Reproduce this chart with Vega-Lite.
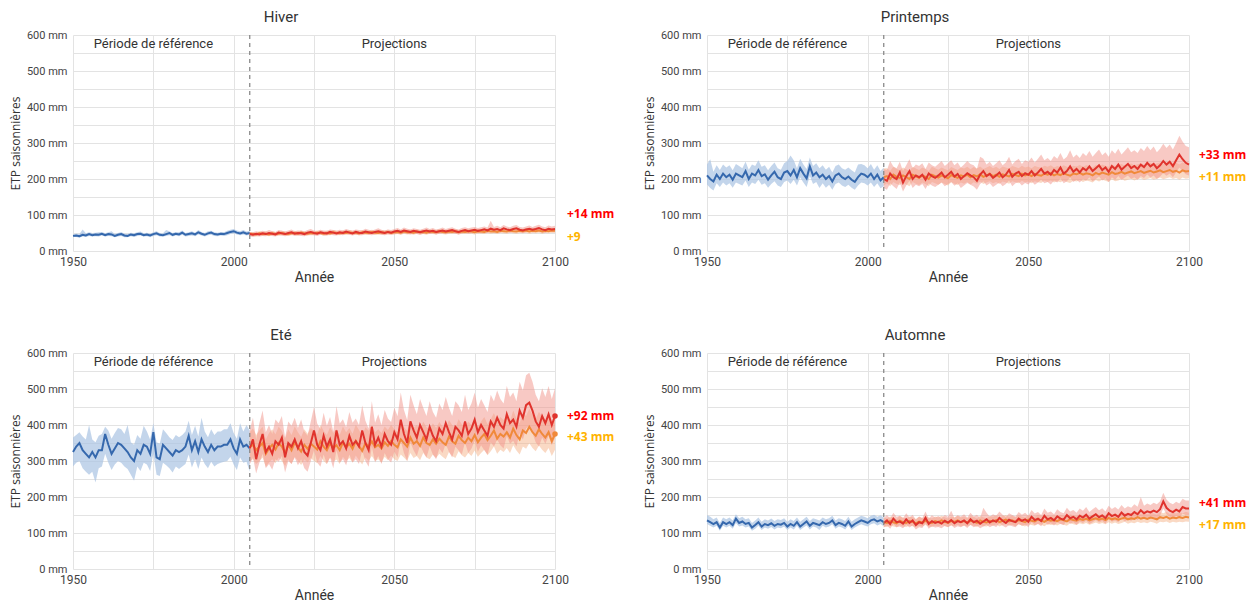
{
  "$schema": "https://vega.github.io/schema/vega-lite/v6.json",
  "background": "white",
  "padding": {"left": 9, "top": 10, "right": 5, "bottom": 5},
  "data": {
    "values": "saison,annee,ref,ref_min,ref_max,rcp85,rcp85_min,rcp85_max,rcp45,rcp45_min,rcp45_max\nH,1950,42,39,46,,,,,,\nH,1951,43,39,48,,,,,,\nH,1952,41,37,47,,,,,,\nH,1953,45,40,60,,,,,,\nH,1954,43,39,49,,,,,,\nH,1955,47,42,52,,,,,,\nH,1956,44,40,50,,,,,,\nH,1957,46,41,51,,,,,,\nH,1958,45,40,52,,,,,,\nH,1959,48,43,53,,,,,,\nH,1960,44,40,49,,,,,,\nH,1961,47,42,52,,,,,,\nH,1962,46,41,55,,,,,,\nH,1963,42,38,47,,,,,,\nH,1964,45,40,50,,,,,,\nH,1965,47,42,53,,,,,,\nH,1966,43,38,48,,,,,,\nH,1967,42,38,47,,,,,,\nH,1968,46,41,51,,,,,,\nH,1969,44,39,49,,,,,,\nH,1970,47,42,52,,,,,,\nH,1971,48,43,54,,,,,,\nH,1972,44,40,49,,,,,,\nH,1973,46,41,51,,,,,,\nH,1974,43,38,48,,,,,,\nH,1975,47,42,52,,,,,,\nH,1976,49,44,55,,,,,,\nH,1977,45,40,50,,,,,,\nH,1978,44,40,49,,,,,,\nH,1979,47,42,58,,,,,,\nH,1980,50,44,55,,,,,,\nH,1981,45,40,50,,,,,,\nH,1982,48,43,53,,,,,,\nH,1983,46,41,52,,,,,,\nH,1984,51,45,57,,,,,,\nH,1985,45,40,50,,,,,,\nH,1986,47,42,52,,,,,,\nH,1987,49,43,55,,,,,,\nH,1988,46,41,51,,,,,,\nH,1989,52,46,58,,,,,,\nH,1990,48,43,53,,,,,,\nH,1991,45,40,50,,,,,,\nH,1992,49,44,55,,,,,,\nH,1993,51,45,56,,,,,,\nH,1994,47,42,52,,,,,,\nH,1995,46,41,51,,,,,,\nH,1996,48,43,53,,,,,,\nH,1997,47,42,52,,,,,,\nH,1998,50,44,56,,,,,,\nH,1999,53,47,59,,,,,,\nH,2000,55,49,61,,,,,,\nH,2001,51,46,57,,,,,,\nH,2002,49,44,55,,,,,,\nH,2003,52,46,58,,,,,,\nH,2004,48,43,54,,,,,,\nH,2005,50,45,56,47,41,53,48,43,53\nH,2006,,,,45,39,52,47,42,52\nH,2007,,,,48,41,55,46,41,51\nH,2008,,,,46,40,53,49,44,55\nH,2009,,,,49,42,56,47,42,53\nH,2010,,,,47,41,54,48,43,54\nH,2011,,,,50,43,58,46,41,52\nH,2012,,,,48,42,55,49,44,55\nH,2013,,,,46,40,53,47,42,53\nH,2014,,,,51,44,58,48,43,54\nH,2015,,,,49,43,56,50,44,56\nH,2016,,,,47,41,54,48,43,54\nH,2017,,,,50,43,57,47,42,53\nH,2018,,,,52,45,60,49,44,55\nH,2019,,,,48,42,55,50,45,56\nH,2020,,,,50,43,57,48,43,54\nH,2021,,,,49,42,56,51,45,57\nH,2022,,,,47,41,54,49,44,55\nH,2023,,,,51,44,58,48,43,54\nH,2024,,,,53,46,61,50,44,56\nH,2025,,,,50,44,57,49,44,55\nH,2026,,,,48,42,55,51,45,57\nH,2027,,,,52,45,59,50,45,56\nH,2028,,,,50,43,57,48,43,54\nH,2029,,,,49,43,56,50,44,56\nH,2030,,,,53,46,60,49,44,55\nH,2031,,,,51,44,58,52,46,58\nH,2032,,,,49,43,56,50,45,56\nH,2033,,,,52,45,59,49,44,55\nH,2034,,,,50,44,57,51,45,57\nH,2035,,,,54,47,61,50,45,56\nH,2036,,,,51,45,58,52,46,58\nH,2037,,,,49,43,56,50,45,56\nH,2038,,,,53,46,60,51,45,57\nH,2039,,,,51,44,58,49,44,55\nH,2040,,,,50,44,57,52,46,58\nH,2041,,,,54,47,62,51,45,57\nH,2042,,,,52,45,59,50,45,56\nH,2043,,,,50,44,57,53,47,59\nH,2044,,,,53,46,60,51,45,57\nH,2045,,,,55,48,63,50,45,56\nH,2046,,,,52,45,59,52,46,58\nH,2047,,,,50,44,57,51,45,57\nH,2048,,,,53,46,60,53,47,59\nH,2049,,,,51,45,58,50,45,56\nH,2050,,,,54,47,61,52,46,58\nH,2051,,,,56,49,64,53,47,59\nH,2052,,,,53,46,60,51,45,57\nH,2053,,,,57,50,65,54,48,60\nH,2054,,,,55,48,62,52,46,58\nH,2055,,,,53,46,60,53,47,59\nH,2056,,,,56,49,63,51,45,57\nH,2057,,,,54,47,61,54,48,60\nH,2058,,,,52,45,59,52,46,58\nH,2059,,,,55,48,62,53,47,59\nH,2060,,,,57,50,65,51,45,57\nH,2061,,,,54,47,61,54,48,60\nH,2062,,,,56,49,64,53,47,59\nH,2063,,,,53,46,60,52,46,58\nH,2064,,,,55,48,62,55,49,61\nH,2065,,,,57,50,65,53,47,59\nH,2066,,,,54,47,61,52,46,58\nH,2067,,,,56,49,64,54,48,60\nH,2068,,,,58,51,66,53,47,59\nH,2069,,,,55,48,62,55,49,61\nH,2070,,,,53,46,60,52,46,58\nH,2071,,,,56,49,64,54,48,60\nH,2072,,,,58,51,66,53,47,59\nH,2073,,,,55,48,63,55,49,61\nH,2074,,,,57,50,65,54,48,60\nH,2075,,,,59,52,67,52,46,58\nH,2076,,,,56,49,64,55,49,61\nH,2077,,,,58,51,66,54,48,60\nH,2078,,,,60,52,68,53,47,59\nH,2079,,,,57,50,65,56,50,62\nH,2080,,,,62,54,84,54,48,60\nH,2081,,,,59,52,67,55,49,61\nH,2082,,,,61,53,70,53,47,59\nH,2083,,,,58,51,66,56,50,62\nH,2084,,,,63,55,72,55,49,61\nH,2085,,,,60,52,68,54,48,60\nH,2086,,,,58,51,66,57,51,63\nH,2087,,,,61,53,70,55,49,61\nH,2088,,,,63,55,72,54,48,60\nH,2089,,,,59,52,67,56,50,62\nH,2090,,,,57,50,65,55,49,61\nH,2091,,,,60,52,68,57,51,63\nH,2092,,,,62,54,71,54,48,60\nH,2093,,,,59,52,67,56,50,62\nH,2094,,,,61,53,70,55,49,61\nH,2095,,,,64,56,73,57,51,63\nH,2096,,,,60,52,68,54,48,60\nH,2097,,,,58,51,66,56,50,62\nH,2098,,,,62,54,71,55,49,61\nH,2099,,,,60,52,68,57,51,63\nH,2100,,,,61,53,70,56,50,62\nP,1950,210,185,240,,,,,,\nP,1951,200,175,255,,,,,,\nP,1952,193,168,220,,,,,,\nP,1953,212,188,238,,,,,,\nP,1954,200,178,225,,,,,,\nP,1955,215,190,240,,,,,,\nP,1956,205,182,232,,,,,,\nP,1957,212,188,238,,,,,,\nP,1958,198,176,224,,,,,,\nP,1959,215,190,242,,,,,,\nP,1960,210,186,236,,,,,,\nP,1961,205,182,230,,,,,,\nP,1962,222,196,248,,,,,,\nP,1963,200,178,226,,,,,,\nP,1964,215,190,240,,,,,,\nP,1965,210,186,236,,,,,,\nP,1966,225,198,252,,,,,,\nP,1967,208,184,234,,,,,,\nP,1968,213,188,238,,,,,,\nP,1969,198,176,224,,,,,,\nP,1970,210,186,236,,,,,,\nP,1971,220,194,246,,,,,,\nP,1972,205,182,230,,,,,,\nP,1973,200,178,226,,,,,,\nP,1974,218,192,244,,,,,,\nP,1975,222,196,250,,,,,,\nP,1976,210,186,265,,,,,,\nP,1977,225,198,252,,,,,,\nP,1978,205,182,230,,,,,,\nP,1979,230,204,256,,,,,,\nP,1980,215,190,240,,,,,,\nP,1981,202,178,228,,,,,,\nP,1982,235,208,260,,,,,,\nP,1983,210,186,236,,,,,,\nP,1984,218,192,244,,,,,,\nP,1985,205,175,230,,,,,,\nP,1986,212,188,238,,,,,,\nP,1987,200,176,226,,,,,,\nP,1988,208,184,234,,,,,,\nP,1989,193,170,218,,,,,,\nP,1990,210,186,236,,,,,,\nP,1991,215,190,240,,,,,,\nP,1992,205,182,230,,,,,,\nP,1993,200,178,226,,,,,,\nP,1994,207,184,232,,,,,,\nP,1995,198,176,224,,,,,,\nP,1996,192,170,218,,,,,,\nP,1997,205,182,240,,,,,,\nP,1998,215,190,242,,,,,,\nP,1999,212,188,238,,,,,,\nP,2000,205,182,230,,,,,,\nP,2001,215,190,242,,,,,,\nP,2002,200,178,226,,,,,,\nP,2003,212,188,238,,,,,,\nP,2004,196,174,222,,,,,,\nP,2005,205,180,232,200,175,228,205,182,230\nP,2006,,,,195,170,225,208,188,230\nP,2007,,,,215,188,250,200,180,222\nP,2008,,,,205,180,235,212,192,234\nP,2009,,,,200,172,230,206,186,228\nP,2010,,,,218,190,248,203,183,225\nP,2011,,,,190,165,222,210,190,232\nP,2012,,,,208,182,238,205,185,227\nP,2013,,,,222,195,255,200,180,222\nP,2014,,,,200,175,230,212,192,234\nP,2015,,,,210,184,240,207,187,229\nP,2016,,,,205,180,236,203,183,225\nP,2017,,,,212,186,244,210,190,232\nP,2018,,,,198,172,228,206,186,228\nP,2019,,,,215,188,246,200,180,222\nP,2020,,,,208,182,238,212,192,234\nP,2021,,,,203,178,234,208,188,230\nP,2022,,,,210,184,242,204,184,226\nP,2023,,,,218,190,250,210,190,232\nP,2024,,,,205,180,236,206,186,228\nP,2025,,,,212,186,244,202,182,224\nP,2026,,,,220,192,252,211,191,233\nP,2027,,,,207,181,238,207,187,229\nP,2028,,,,214,188,246,203,183,225\nP,2029,,,,200,175,232,210,190,232\nP,2030,,,,208,182,240,207,187,229\nP,2031,,,,216,189,250,212,192,234\nP,2032,,,,210,184,242,205,185,227\nP,2033,,,,205,179,238,211,191,233\nP,2034,,,,195,170,228,207,187,229\nP,2035,,,,212,186,262,213,193,235\nP,2036,,,,222,194,256,206,186,228\nP,2037,,,,208,182,240,210,190,232\nP,2038,,,,214,188,248,214,194,236\nP,2039,,,,203,178,236,208,188,230\nP,2040,,,,210,184,244,212,192,234\nP,2041,,,,218,190,252,206,186,228\nP,2042,,,,205,180,238,213,193,235\nP,2043,,,,212,186,246,210,190,232\nP,2044,,,,225,196,262,207,187,229\nP,2045,,,,206,180,240,214,194,236\nP,2046,,,,215,188,250,211,191,233\nP,2047,,,,220,192,256,208,188,230\nP,2048,,,,208,182,242,215,195,237\nP,2049,,,,216,189,252,210,190,232\nP,2050,,,,212,185,248,213,193,235\nP,2051,,,,222,194,260,208,188,230\nP,2052,,,,210,184,246,214,194,236\nP,2053,,,,218,190,256,211,191,233\nP,2054,,,,228,198,268,209,189,231\nP,2055,,,,215,188,252,215,195,237\nP,2056,,,,220,192,258,212,192,234\nP,2057,,,,212,185,250,216,196,238\nP,2058,,,,225,196,264,210,190,232\nP,2059,,,,218,190,256,214,194,236\nP,2060,,,,232,202,272,211,191,233\nP,2061,,,,215,188,254,216,196,238\nP,2062,,,,222,194,262,212,192,234\nP,2063,,,,235,204,280,209,189,231\nP,2064,,,,220,192,260,215,195,237\nP,2065,,,,228,198,268,213,193,235\nP,2066,,,,218,190,258,217,197,239\nP,2067,,,,230,200,272,212,192,234\nP,2068,,,,224,195,264,216,196,238\nP,2069,,,,235,205,278,214,194,236\nP,2070,,,,222,194,262,210,190,232\nP,2071,,,,230,200,272,217,197,239\nP,2072,,,,238,207,282,213,193,235\nP,2073,,,,225,196,266,218,198,240\nP,2074,,,,232,202,274,215,195,237\nP,2075,,,,220,192,262,212,192,234\nP,2076,,,,236,205,280,219,199,241\nP,2077,,,,228,198,270,214,194,236\nP,2078,,,,240,208,284,216,196,238\nP,2079,,,,226,197,268,220,200,242\nP,2080,,,,234,204,278,215,195,237\nP,2081,,,,242,210,288,218,198,240\nP,2082,,,,230,200,274,221,201,243\nP,2083,,,,236,205,280,216,196,238\nP,2084,,,,228,198,272,219,199,241\nP,2085,,,,240,208,286,222,202,244\nP,2086,,,,233,203,278,217,197,239\nP,2087,,,,245,213,292,220,200,242\nP,2088,,,,235,204,280,223,203,245\nP,2089,,,,242,210,290,218,198,240\nP,2090,,,,230,200,274,221,201,243\nP,2091,,,,238,207,284,224,204,246\nP,2092,,,,250,217,298,219,199,241\nP,2093,,,,240,209,286,222,202,244\nP,2094,,,,248,215,296,225,205,247\nP,2095,,,,236,205,282,220,200,242\nP,2096,,,,252,219,300,223,203,245\nP,2097,,,,268,232,320,218,198,240\nP,2098,,,,255,222,304,224,204,246\nP,2099,,,,245,213,292,221,201,243\nP,2100,,,,240,210,288,222,202,244\nE,1950,325,285,365,,,,,,\nE,1951,340,295,372,,,,,,\nE,1952,350,300,380,,,,,,\nE,1953,330,280,368,,,,,,\nE,1954,320,270,360,,,,,,\nE,1955,310,262,400,,,,,,\nE,1956,325,270,360,,,,,,\nE,1957,310,240,352,,,,,,\nE,1958,330,280,370,,,,,,\nE,1959,330,285,375,,,,,,\nE,1960,375,320,395,,,,,,\nE,1961,345,295,385,,,,,,\nE,1962,320,275,362,,,,,,\nE,1963,335,290,378,,,,,,\nE,1964,350,300,392,,,,,,\nE,1965,345,295,388,,,,,,\nE,1966,335,285,375,,,,,,\nE,1967,325,278,400,,,,,,\nE,1968,310,262,352,,,,,,\nE,1969,300,245,345,,,,,,\nE,1970,330,285,372,,,,,,\nE,1971,320,272,362,,,,,,\nE,1972,345,295,398,,,,,,\nE,1973,340,290,382,,,,,,\nE,1974,320,272,360,,,,,,\nE,1975,380,320,405,,,,,,\nE,1976,310,262,352,,,,,,\nE,1977,305,258,348,,,,,,\nE,1978,345,295,388,,,,,,\nE,1979,335,288,378,,,,,,\nE,1980,325,280,366,,,,,,\nE,1981,315,268,358,,,,,,\nE,1982,330,285,372,,,,,,\nE,1983,325,278,366,,,,,,\nE,1984,330,285,372,,,,,,\nE,1985,340,292,382,,,,,,\nE,1986,370,318,412,,,,,,\nE,1987,330,282,372,,,,,,\nE,1988,355,305,398,,,,,,\nE,1989,325,278,368,,,,,,\nE,1990,360,310,420,,,,,,\nE,1991,340,292,382,,,,,,\nE,1992,325,280,366,,,,,,\nE,1993,345,298,388,,,,,,\nE,1994,330,285,372,,,,,,\nE,1995,340,292,382,,,,,,\nE,1996,340,295,382,,,,,,\nE,1997,345,298,388,,,,,,\nE,1998,345,300,388,,,,,,\nE,1999,360,312,405,,,,,,\nE,2000,335,290,378,,,,,,\nE,2001,320,275,362,,,,,,\nE,2002,360,310,405,,,,,,\nE,2003,340,295,382,,,,,,\nE,2004,345,298,400,,,,,,\nE,2005,335,270,385,335,290,385,338,300,380\nE,2006,,,,360,310,420,345,305,390\nE,2007,,,,305,265,360,330,292,372\nE,2008,,,,345,295,405,340,300,385\nE,2009,,,,375,320,440,350,310,395\nE,2010,,,,325,280,380,320,284,360\nE,2011,,,,340,292,400,335,296,378\nE,2012,,,,320,276,375,345,305,388\nE,2013,,,,355,305,415,332,294,374\nE,2014,,,,345,298,405,350,310,395\nE,2015,,,,365,314,425,340,300,384\nE,2016,,,,310,268,365,322,286,362\nE,2017,,,,350,300,410,345,305,388\nE,2018,,,,340,292,398,330,292,372\nE,2019,,,,360,310,420,352,312,396\nE,2020,,,,335,288,392,338,300,380\nE,2021,,,,355,305,415,326,289,367\nE,2022,,,,325,280,382,345,305,388\nE,2023,,,,315,270,370,334,296,376\nE,2024,,,,350,300,410,348,308,392\nE,2025,,,,385,330,450,340,300,384\nE,2026,,,,345,296,404,332,294,374\nE,2027,,,,330,284,388,355,314,400\nE,2028,,,,370,318,434,340,300,384\nE,2029,,,,340,292,398,330,292,372\nE,2030,,,,360,310,422,350,310,394\nE,2031,,,,325,280,382,336,298,378\nE,2032,,,,385,330,452,344,304,388\nE,2033,,,,345,296,404,330,292,372\nE,2034,,,,355,305,416,352,312,396\nE,2035,,,,335,288,394,338,300,380\nE,2036,,,,370,318,436,348,308,392\nE,2037,,,,345,296,406,334,296,376\nE,2038,,,,355,305,418,356,315,401\nE,2039,,,,340,292,400,342,302,386\nE,2040,,,,385,330,454,328,290,370\nE,2041,,,,350,300,412,350,310,394\nE,2042,,,,330,284,390,340,300,384\nE,2043,,,,395,340,466,355,314,400\nE,2044,,,,345,296,406,338,300,380\nE,2045,,,,365,314,430,345,305,388\nE,2046,,,,340,292,400,335,296,378\nE,2047,,,,375,322,442,352,312,396\nE,2048,,,,355,305,418,342,302,386\nE,2049,,,,345,296,408,356,315,401\nE,2050,,,,380,326,448,345,305,388\nE,2051,,,,360,310,424,338,300,380\nE,2052,,,,415,356,490,360,318,405\nE,2053,,,,375,322,442,350,310,394\nE,2054,,,,350,300,414,340,300,384\nE,2055,,,,410,352,484,365,322,410\nE,2056,,,,385,330,455,348,308,392\nE,2057,,,,365,314,430,355,314,400\nE,2058,,,,400,344,472,342,302,386\nE,2059,,,,380,326,448,365,322,410\nE,2060,,,,360,310,425,350,310,394\nE,2061,,,,395,340,466,345,305,388\nE,2062,,,,370,318,436,360,318,405\nE,2063,,,,355,305,420,348,308,392\nE,2064,,,,390,335,460,362,320,408\nE,2065,,,,375,322,442,352,312,396\nE,2066,,,,405,348,478,345,305,388\nE,2067,,,,380,326,448,368,325,414\nE,2068,,,,360,310,425,355,314,400\nE,2069,,,,395,340,466,348,308,392\nE,2070,,,,385,330,455,370,327,416\nE,2071,,,,370,318,436,358,316,402\nE,2072,,,,410,352,484,350,310,394\nE,2073,,,,375,322,442,365,322,410\nE,2074,,,,390,335,460,355,314,400\nE,2075,,,,415,356,490,372,329,418\nE,2076,,,,380,326,448,352,312,396\nE,2077,,,,400,344,472,365,322,410\nE,2078,,,,385,330,455,375,331,422\nE,2079,,,,370,318,436,358,316,402\nE,2080,,,,410,352,484,370,327,416\nE,2081,,,,395,340,466,385,340,433\nE,2082,,,,420,360,496,362,320,408\nE,2083,,,,400,344,472,375,331,422\nE,2084,,,,390,335,460,368,325,414\nE,2085,,,,430,370,508,380,336,428\nE,2086,,,,405,348,478,365,322,410\nE,2087,,,,415,356,490,390,344,440\nE,2088,,,,395,340,466,372,329,418\nE,2089,,,,440,378,520,360,318,405\nE,2090,,,,420,360,496,385,340,433\nE,2091,,,,455,391,538,378,334,425\nE,2092,,,,462,397,545,395,349,445\nE,2093,,,,440,378,520,380,336,428\nE,2094,,,,410,352,484,370,327,416\nE,2095,,,,395,340,466,388,343,437\nE,2096,,,,425,365,502,375,331,422\nE,2097,,,,405,348,478,365,322,410\nE,2098,,,,430,370,508,380,336,428\nE,2099,,,,400,344,472,355,314,400\nE,2100,,,,425,365,502,375,331,422\nA,1950,135,125,150,,,,,,\nA,1951,130,120,145,,,,,,\nA,1952,125,115,138,,,,,,\nA,1953,130,120,143,,,,,,\nA,1954,115,106,128,,,,,,\nA,1955,130,120,143,,,,,,\nA,1956,125,115,138,,,,,,\nA,1957,130,120,143,,,,,,\nA,1958,122,112,135,,,,,,\nA,1959,140,128,152,,,,,,\nA,1960,128,118,141,,,,,,\nA,1961,132,121,145,,,,,,\nA,1962,125,115,138,,,,,,\nA,1963,128,118,141,,,,,,\nA,1964,115,106,128,,,,,,\nA,1965,122,112,135,,,,,,\nA,1966,130,120,143,,,,,,\nA,1967,118,108,131,,,,,,\nA,1968,125,115,138,,,,,,\nA,1969,122,112,135,,,,,,\nA,1970,127,117,140,,,,,,\nA,1971,120,110,133,,,,,,\nA,1972,125,115,138,,,,,,\nA,1973,123,113,136,,,,,,\nA,1974,128,118,141,,,,,,\nA,1975,118,108,131,,,,,,\nA,1976,125,115,138,,,,,,\nA,1977,120,110,133,,,,,,\nA,1978,130,120,143,,,,,,\nA,1979,118,108,131,,,,,,\nA,1980,125,115,138,,,,,,\nA,1981,132,121,145,,,,,,\nA,1982,120,110,133,,,,,,\nA,1983,128,118,141,,,,,,\nA,1984,125,115,138,,,,,,\nA,1985,122,108,135,,,,,,\nA,1986,130,120,143,,,,,,\nA,1987,125,115,138,,,,,,\nA,1988,128,118,141,,,,,,\nA,1989,135,124,148,,,,,,\nA,1990,122,112,135,,,,,,\nA,1991,128,118,141,,,,,,\nA,1992,125,115,138,,,,,,\nA,1993,120,110,133,,,,,,\nA,1994,132,121,145,,,,,,\nA,1995,118,108,131,,,,,,\nA,1996,125,115,138,,,,,,\nA,1997,130,120,143,,,,,,\nA,1998,135,124,148,,,,,,\nA,1999,132,121,145,,,,,,\nA,2000,128,118,141,,,,,,\nA,2001,135,124,148,,,,,,\nA,2002,138,127,151,,,,,,\nA,2003,132,121,145,,,,,,\nA,2004,136,125,149,,,,,,\nA,2005,130,119,143,128,115,142,130,118,143\nA,2006,,,,135,121,150,128,117,140\nA,2007,,,,125,112,140,133,121,146\nA,2008,,,,140,125,156,130,118,143\nA,2009,,,,130,116,145,127,116,139\nA,2010,,,,132,118,148,134,122,147\nA,2011,,,,126,113,141,130,118,143\nA,2012,,,,138,123,155,128,117,140\nA,2013,,,,128,115,143,133,121,146\nA,2014,,,,135,121,151,131,119,144\nA,2015,,,,122,110,137,127,116,139\nA,2016,,,,130,116,146,132,120,145\nA,2017,,,,127,114,142,129,118,141\nA,2018,,,,142,127,160,134,122,147\nA,2019,,,,125,112,140,130,118,143\nA,2020,,,,133,119,149,128,117,140\nA,2021,,,,128,115,143,133,121,146\nA,2022,,,,131,117,147,130,118,143\nA,2023,,,,126,113,141,135,123,148\nA,2024,,,,134,120,150,131,119,144\nA,2025,,,,129,116,145,128,117,140\nA,2026,,,,136,122,162,133,121,146\nA,2027,,,,127,114,142,131,119,144\nA,2028,,,,133,119,149,135,123,148\nA,2029,,,,130,116,146,130,118,143\nA,2030,,,,135,121,152,133,121,146\nA,2031,,,,127,114,143,129,118,141\nA,2032,,,,138,123,156,134,122,147\nA,2033,,,,130,116,146,132,120,145\nA,2034,,,,134,120,151,128,117,140\nA,2035,,,,126,113,142,135,123,148\nA,2036,,,,132,118,170,131,119,144\nA,2037,,,,138,123,156,129,118,141\nA,2038,,,,129,116,145,134,122,147\nA,2039,,,,135,121,152,132,120,145\nA,2040,,,,131,117,148,136,124,149\nA,2041,,,,142,127,160,130,118,143\nA,2042,,,,134,120,151,134,122,147\nA,2043,,,,128,115,144,137,125,150\nA,2044,,,,137,122,155,132,120,145\nA,2045,,,,133,119,150,135,123,148\nA,2046,,,,130,116,146,131,119,144\nA,2047,,,,140,125,158,136,124,149\nA,2048,,,,134,120,151,133,121,146\nA,2049,,,,138,123,156,130,118,143\nA,2050,,,,131,117,148,137,125,150\nA,2051,,,,145,130,164,134,122,147\nA,2052,,,,136,122,154,132,120,145\nA,2053,,,,140,125,158,138,126,151\nA,2054,,,,133,119,150,135,123,148\nA,2055,,,,148,132,168,131,119,144\nA,2056,,,,138,123,156,137,125,150\nA,2057,,,,142,127,160,134,122,147\nA,2058,,,,135,121,152,136,124,149\nA,2059,,,,146,130,166,133,121,146\nA,2060,,,,140,125,158,138,126,151\nA,2061,,,,137,122,155,135,123,148\nA,2062,,,,150,134,170,132,120,145\nA,2063,,,,141,126,160,139,127,152\nA,2064,,,,145,130,164,136,124,149\nA,2065,,,,138,123,156,134,122,147\nA,2066,,,,148,132,168,139,127,152\nA,2067,,,,143,128,162,136,124,149\nA,2068,,,,151,135,172,140,128,153\nA,2069,,,,140,125,158,135,123,148\nA,2070,,,,146,130,166,138,126,151\nA,2071,,,,152,136,172,141,129,154\nA,2072,,,,144,129,163,137,125,150\nA,2073,,,,149,133,169,140,128,153\nA,2074,,,,141,126,160,136,124,149\nA,2075,,,,155,139,176,142,130,155\nA,2076,,,,147,131,167,138,126,151\nA,2077,,,,151,135,172,141,129,154\nA,2078,,,,145,130,165,137,125,150\nA,2079,,,,157,140,178,140,128,153\nA,2080,,,,148,132,168,143,131,156\nA,2081,,,,153,137,174,138,126,151\nA,2082,,,,150,134,170,141,129,154\nA,2083,,,,158,141,180,139,127,152\nA,2084,,,,152,136,173,144,131,158\nA,2085,,,,163,146,200,140,128,153\nA,2086,,,,155,139,176,142,130,155\nA,2087,,,,160,143,182,139,127,152\nA,2088,,,,157,140,178,143,131,156\nA,2089,,,,162,145,184,141,129,154\nA,2090,,,,158,141,180,138,126,151\nA,2091,,,,166,148,188,144,131,158\nA,2092,,,,188,168,212,142,130,155\nA,2093,,,,170,152,193,145,132,159\nA,2094,,,,162,145,184,140,128,153\nA,2095,,,,158,141,180,143,131,156\nA,2096,,,,165,147,187,141,129,154\nA,2097,,,,160,143,182,144,131,158\nA,2098,,,,172,154,195,142,130,155\nA,2099,,,,168,150,190,145,132,159\nA,2100,,,,168,150,190,143,131,156",
    "format": {"type": "csv", "parse": {"annee": "number", "ref": "number", "ref_min": "number", "ref_max": "number", "rcp85": "number", "rcp85_min": "number", "rcp85_max": "number", "rcp45": "number", "rcp45_min": "number", "rcp45_max": "number"}}
  },
  "columns": 2,
  "spacing": {"row": 102, "column": 152},
  "bounds": "flush",
  "config": {
    "view": {"stroke": null},
    "font": "Roboto",
    "title": {"font": "Liberation Sans Narrow, Roboto", "fontSize": 15, "fontWeight": "normal", "color": "#333333", "offset": 4, "frame": "group"},
    "axis": {"grid": true, "gridColor": "#e3e3e3", "gridWidth": 1, "domain": false, "ticks": false, "labelOverlap": false, "tickCount": 20, "labelFont": "Liberation Sans Narrow, Roboto", "labelFontSize": 11, "labelColor": "#444444", "titleFont": "Liberation Sans Narrow, Roboto", "titleFontWeight": "normal", "titleColor": "#333333", "titleFontSize": 14},
    "axisX": {"labelPadding": 5, "titlePadding": 3, "labelFlush": false, "labelFontSize": 12},
    "axisY": {"labelPadding": 6, "titlePadding": 4, "titleFont": "Open Sans", "titleFontSize": 12}
  },
  "concat": [
    {
      "width": 482, "height": 216,
      "title": {"text": "Hiver", "dx": -33},
      "transform": [{"filter": "datum.saison === 'H'"}],
      "encoding": {"x": {"field": "annee", "type": "quantitative", "title": "Année", "scale": {"domain": [1950, 2100], "nice": false}, "axis": {"values": [1950, 1975, 2000, 2025, 2050, 2075, 2100], "tickCount": 20, "labelExpr": "datum.value % 50 === 0 ? datum.label : ''", "format": "d"}}},
      "layer": [
        {"mark": {"type": "area", "color": "#a9c3e3", "opacity": 0.7}, "encoding": {"y": {"field": "ref_min", "type": "quantitative", "title": "ETP saisonnières", "scale": {"domain": [0, 600], "nice": false}, "axis": {"values": [0, 50, 100, 150, 200, 250, 300, 350, 400, 450, 500, 550, 600], "tickCount": 20, "labelExpr": "datum.value % 100 === 0 ? datum.value + ' mm' : ''"}}, "y2": {"field": "ref_max"}}},
        {"mark": {"type": "area", "color": "#f5b48a", "opacity": 0.5}, "encoding": {"y": {"field": "rcp45_min", "type": "quantitative"}, "y2": {"field": "rcp45_max"}}},
        {"mark": {"type": "area", "color": "#f1948a", "opacity": 0.5}, "encoding": {"y": {"field": "rcp85_min", "type": "quantitative"}, "y2": {"field": "rcp85_max"}}},
        {"mark": {"type": "line", "color": "#3568ad", "strokeWidth": 2}, "encoding": {"y": {"field": "ref", "type": "quantitative"}}},
        {"mark": {"type": "line", "color": "#f0893a", "strokeWidth": 2}, "encoding": {"y": {"field": "rcp45", "type": "quantitative"}}},
        {"mark": {"type": "line", "color": "#e0332d", "strokeWidth": 2}, "encoding": {"y": {"field": "rcp85", "type": "quantitative"}}},
        {"data": {"values": [{"saison": "H", "annee": 2005}]}, "mark": {"type": "rule", "color": "#8a8a8a", "strokeDash": [4, 4], "strokeWidth": 1.3}, "encoding": {"x": {"field": "annee", "type": "quantitative"}}},
        {"data": {"values": [{"saison": "H", "annee": 1975, "v": 575, "t": "Période de référence"}, {"saison": "H", "annee": 2050, "v": 575, "t": "Projections"}]}, "mark": {"type": "text", "font": "Liberation Sans Narrow, Roboto", "fontSize": 13, "color": "#333333"}, "encoding": {"y": {"field": "v", "type": "quantitative"}, "text": {"field": "t"}}},
        {"data": {"values": [{"saison": "H", "annee": 2100, "v": 103, "t": "+14 mm", "scenario": "RCP 8.5"}, {"saison": "H", "annee": 2100, "v": 39, "t": "+9", "scenario": "RCP 4.5"}]}, "mark": {"type": "text", "align": "left", "dx": 12, "font": "Open Sans", "fontSize": 12, "fontWeight": "bold"}, "encoding": {"y": {"field": "v", "type": "quantitative"}, "text": {"field": "t"}, "color": {"field": "scenario", "type": "nominal", "scale": {"domain": ["RCP 8.5", "RCP 4.5"], "range": ["#ff0000", "#ffb300"]}, "legend": null}}}
      ]
    },
    {
      "width": 482, "height": 216,
      "title": {"text": "Printemps", "dx": -33},
      "transform": [{"filter": "datum.saison === 'P'"}],
      "encoding": {"x": {"field": "annee", "type": "quantitative", "title": "Année", "scale": {"domain": [1950, 2100], "nice": false}, "axis": {"values": [1950, 1975, 2000, 2025, 2050, 2075, 2100], "tickCount": 20, "labelExpr": "datum.value % 50 === 0 ? datum.label : ''", "format": "d"}}},
      "layer": [
        {"mark": {"type": "area", "color": "#a9c3e3", "opacity": 0.7}, "encoding": {"y": {"field": "ref_min", "type": "quantitative", "title": "ETP saisonnières", "scale": {"domain": [0, 600], "nice": false}, "axis": {"values": [0, 50, 100, 150, 200, 250, 300, 350, 400, 450, 500, 550, 600], "tickCount": 20, "labelExpr": "datum.value % 100 === 0 ? datum.value + ' mm' : ''"}}, "y2": {"field": "ref_max"}}},
        {"mark": {"type": "area", "color": "#f5b48a", "opacity": 0.5}, "encoding": {"y": {"field": "rcp45_min", "type": "quantitative"}, "y2": {"field": "rcp45_max"}}},
        {"mark": {"type": "area", "color": "#f1948a", "opacity": 0.5}, "encoding": {"y": {"field": "rcp85_min", "type": "quantitative"}, "y2": {"field": "rcp85_max"}}},
        {"mark": {"type": "line", "color": "#3568ad", "strokeWidth": 2}, "encoding": {"y": {"field": "ref", "type": "quantitative"}}},
        {"mark": {"type": "line", "color": "#f0893a", "strokeWidth": 2}, "encoding": {"y": {"field": "rcp45", "type": "quantitative"}}},
        {"mark": {"type": "line", "color": "#e0332d", "strokeWidth": 2}, "encoding": {"y": {"field": "rcp85", "type": "quantitative"}}},
        {"data": {"values": [{"saison": "P", "annee": 2005}]}, "mark": {"type": "rule", "color": "#8a8a8a", "strokeDash": [4, 4], "strokeWidth": 1.3}, "encoding": {"x": {"field": "annee", "type": "quantitative"}}},
        {"data": {"values": [{"saison": "P", "annee": 1975, "v": 575, "t": "Période de référence"}, {"saison": "P", "annee": 2050, "v": 575, "t": "Projections"}]}, "mark": {"type": "text", "font": "Liberation Sans Narrow, Roboto", "fontSize": 13, "color": "#333333"}, "encoding": {"y": {"field": "v", "type": "quantitative"}, "text": {"field": "t"}}},
        {"data": {"values": [{"saison": "P", "annee": 2100, "v": 267, "t": "+33 mm", "scenario": "RCP 8.5"}, {"saison": "P", "annee": 2100, "v": 206, "t": "+11 mm", "scenario": "RCP 4.5"}]}, "mark": {"type": "text", "align": "left", "dx": 10, "font": "Open Sans", "fontSize": 12, "fontWeight": "bold"}, "encoding": {"y": {"field": "v", "type": "quantitative"}, "text": {"field": "t"}, "color": {"field": "scenario", "type": "nominal", "scale": {"domain": ["RCP 8.5", "RCP 4.5"], "range": ["#ff0000", "#ffb300"]}, "legend": null}}}
      ]
    },
    {
      "width": 482, "height": 216,
      "title": {"text": "Eté", "dx": -33},
      "transform": [{"filter": "datum.saison === 'E'"}],
      "encoding": {"x": {"field": "annee", "type": "quantitative", "title": "Année", "scale": {"domain": [1950, 2100], "nice": false}, "axis": {"values": [1950, 1975, 2000, 2025, 2050, 2075, 2100], "tickCount": 20, "labelExpr": "datum.value % 50 === 0 ? datum.label : ''", "format": "d"}}},
      "layer": [
        {"mark": {"type": "area", "color": "#a9c3e3", "opacity": 0.7}, "encoding": {"y": {"field": "ref_min", "type": "quantitative", "title": "ETP saisonnières", "scale": {"domain": [0, 600], "nice": false}, "axis": {"values": [0, 50, 100, 150, 200, 250, 300, 350, 400, 450, 500, 550, 600], "tickCount": 20, "labelExpr": "datum.value % 100 === 0 ? datum.value + ' mm' : ''"}}, "y2": {"field": "ref_max"}}},
        {"mark": {"type": "area", "color": "#f5b48a", "opacity": 0.5}, "encoding": {"y": {"field": "rcp45_min", "type": "quantitative"}, "y2": {"field": "rcp45_max"}}},
        {"mark": {"type": "area", "color": "#f1948a", "opacity": 0.5}, "encoding": {"y": {"field": "rcp85_min", "type": "quantitative"}, "y2": {"field": "rcp85_max"}}},
        {"mark": {"type": "line", "color": "#3568ad", "strokeWidth": 2}, "encoding": {"y": {"field": "ref", "type": "quantitative"}}},
        {"mark": {"type": "line", "color": "#f0893a", "strokeWidth": 2}, "encoding": {"y": {"field": "rcp45", "type": "quantitative"}}},
        {"mark": {"type": "line", "color": "#e0332d", "strokeWidth": 2}, "encoding": {"y": {"field": "rcp85", "type": "quantitative"}}},
        {"transform": [{"filter": "datum.annee === 2100"}], "mark": {"type": "point", "filled": true, "size": 30, "opacity": 1, "color": "#e0332d"}, "encoding": {"y": {"field": "rcp85", "type": "quantitative"}}},
        {"transform": [{"filter": "datum.annee === 2100"}], "mark": {"type": "point", "filled": true, "size": 30, "opacity": 1, "color": "#f0893a"}, "encoding": {"y": {"field": "rcp45", "type": "quantitative"}}},
        {"data": {"values": [{"saison": "E", "annee": 2005}]}, "mark": {"type": "rule", "color": "#8a8a8a", "strokeDash": [4, 4], "strokeWidth": 1.3}, "encoding": {"x": {"field": "annee", "type": "quantitative"}}},
        {"data": {"values": [{"saison": "E", "annee": 1975, "v": 575, "t": "Période de référence"}, {"saison": "E", "annee": 2050, "v": 575, "t": "Projections"}]}, "mark": {"type": "text", "font": "Liberation Sans Narrow, Roboto", "fontSize": 13, "color": "#333333"}, "encoding": {"y": {"field": "v", "type": "quantitative"}, "text": {"field": "t"}}},
        {"data": {"values": [{"saison": "E", "annee": 2100, "v": 425, "t": "+92 mm", "scenario": "RCP 8.5"}, {"saison": "E", "annee": 2100, "v": 367, "t": "+43 mm", "scenario": "RCP 4.5"}]}, "mark": {"type": "text", "align": "left", "dx": 12, "font": "Open Sans", "fontSize": 12, "fontWeight": "bold"}, "encoding": {"y": {"field": "v", "type": "quantitative"}, "text": {"field": "t"}, "color": {"field": "scenario", "type": "nominal", "scale": {"domain": ["RCP 8.5", "RCP 4.5"], "range": ["#ff0000", "#ffb300"]}, "legend": null}}}
      ]
    },
    {
      "width": 482, "height": 216,
      "title": {"text": "Automne", "dx": -33},
      "transform": [{"filter": "datum.saison === 'A'"}],
      "encoding": {"x": {"field": "annee", "type": "quantitative", "title": "Année", "scale": {"domain": [1950, 2100], "nice": false}, "axis": {"values": [1950, 1975, 2000, 2025, 2050, 2075, 2100], "tickCount": 20, "labelExpr": "datum.value % 50 === 0 ? datum.label : ''", "format": "d"}}},
      "layer": [
        {"mark": {"type": "area", "color": "#a9c3e3", "opacity": 0.7}, "encoding": {"y": {"field": "ref_min", "type": "quantitative", "title": "ETP saisonnières", "scale": {"domain": [0, 600], "nice": false}, "axis": {"values": [0, 50, 100, 150, 200, 250, 300, 350, 400, 450, 500, 550, 600], "tickCount": 20, "labelExpr": "datum.value % 100 === 0 ? datum.value + ' mm' : ''"}}, "y2": {"field": "ref_max"}}},
        {"mark": {"type": "area", "color": "#f5b48a", "opacity": 0.5}, "encoding": {"y": {"field": "rcp45_min", "type": "quantitative"}, "y2": {"field": "rcp45_max"}}},
        {"mark": {"type": "area", "color": "#f1948a", "opacity": 0.5}, "encoding": {"y": {"field": "rcp85_min", "type": "quantitative"}, "y2": {"field": "rcp85_max"}}},
        {"mark": {"type": "line", "color": "#3568ad", "strokeWidth": 2}, "encoding": {"y": {"field": "ref", "type": "quantitative"}}},
        {"mark": {"type": "line", "color": "#f0893a", "strokeWidth": 2}, "encoding": {"y": {"field": "rcp45", "type": "quantitative"}}},
        {"mark": {"type": "line", "color": "#e0332d", "strokeWidth": 2}, "encoding": {"y": {"field": "rcp85", "type": "quantitative"}}},
        {"data": {"values": [{"saison": "A", "annee": 2005}]}, "mark": {"type": "rule", "color": "#8a8a8a", "strokeDash": [4, 4], "strokeWidth": 1.3}, "encoding": {"x": {"field": "annee", "type": "quantitative"}}},
        {"data": {"values": [{"saison": "A", "annee": 1975, "v": 575, "t": "Période de référence"}, {"saison": "A", "annee": 2050, "v": 575, "t": "Projections"}]}, "mark": {"type": "text", "font": "Liberation Sans Narrow, Roboto", "fontSize": 13, "color": "#333333"}, "encoding": {"y": {"field": "v", "type": "quantitative"}, "text": {"field": "t"}}},
        {"data": {"values": [{"saison": "A", "annee": 2100, "v": 183, "t": "+41 mm", "scenario": "RCP 8.5"}, {"saison": "A", "annee": 2100, "v": 122, "t": "+17 mm", "scenario": "RCP 4.5"}]}, "mark": {"type": "text", "align": "left", "dx": 10, "font": "Open Sans", "fontSize": 12, "fontWeight": "bold"}, "encoding": {"y": {"field": "v", "type": "quantitative"}, "text": {"field": "t"}, "color": {"field": "scenario", "type": "nominal", "scale": {"domain": ["RCP 8.5", "RCP 4.5"], "range": ["#ff0000", "#ffb300"]}, "legend": null}}}
      ]
    }
  ]
}
